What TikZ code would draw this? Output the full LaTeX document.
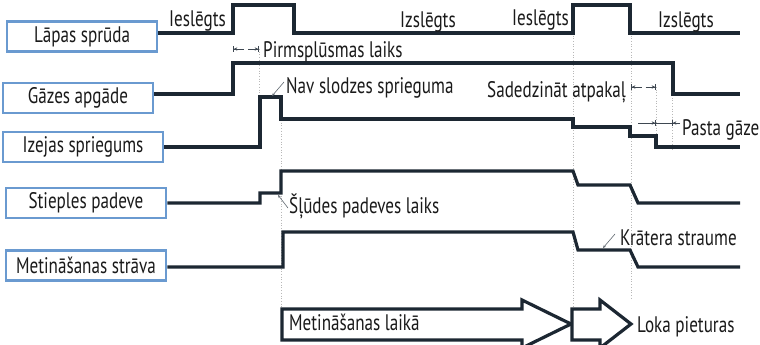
\documentclass[tikz,border=0pt]{standalone}
\usepackage{fontspec}
\setmainfont{PT Sans}[FakeStretch=0.76]
\usetikzlibrary{arrows.meta}
\definecolor{sigc}{HTML}{1C2732}
\definecolor{boxc}{HTML}{6A9AD0}
\definecolor{txt}{HTML}{1A1A1A}
\definecolor{dotc}{HTML}{B8B8B8}
\begin{document}
\begin{tikzpicture}[x=1pt,y=-1pt,
  lbl/.style={draw=boxc, line width=2.8pt, fill=white, text=txt, font=\fontsize{22.5}{26}\selectfont, minimum height=30pt, inner sep=0pt},
  sig/.style={draw=sigc, line width=3.2pt, line join=miter},
  txtn/.style={anchor=base west, text=txt, font=\fontsize{22.5}{26}\selectfont, inner sep=0pt},
  guide/.style={draw=dotc, line width=0.7pt, dotted},
  dimline/.style={draw=sigc!85, line width=0.8pt, -{Stealth[length=3.5pt,width=3.5pt]Bar[width=6pt]}},
  thinline/.style={draw=sigc!85, line width=0.8pt},
  lead/.style={draw=sigc!70, line width=0.6pt, -{Stealth[length=3pt,width=2.5pt]}},
  bigarrow/.style={draw=sigc, line width=3.2pt, fill=white, line join=miter}]
\useasboundingbox (0,0) rectangle (760,345);
\fill[white] (0,0) rectangle (760,345);
% guides
\draw[guide] (259,49) -- (259,97);
\draw[guide] (281,120) -- (281,309);
\draw[guide] (573,33) -- (573,309);
\draw[guide] (631,33) -- (631,300);
\draw[guide] (656,87) -- (656,147);
\draw[guide] (672,95) -- (672,150);
% label boxes
\node[lbl, minimum width=150pt] (b1) at (82,36.5) {Lāpas sprūda};
\node[lbl, minimum width=150pt] (b2) at (78,98) {Gāzes apgāde};
\node[lbl, minimum width=160pt] (b3) at (83,147) {Izejas spriegums};
\node[lbl, minimum width=160pt] (b4) at (86,203) {Stieples padeve};
\node[lbl, minimum width=160pt] (b5) at (86,265.5) {Metināšanas strāva};
% signals
\draw[sig] ([yshift=3.5pt]b1.east) -| (233,5) -| (294,33) -| (573,5) -| (630,33) -- (740,33);
\draw[sig] ([yshift=4pt]b2.east) -| (233,63) -| (673,94) -- (740,94);
\draw[sig] (b3.east) -| (260,97) -| (281,119) -| (573,127) -| (630,136) -| (656,147) -- (740,147);
\draw[sig] (b4.east) -| (260,193) -| (281,171) -- (573,171) -- (578,185) -- (630,185) -- (638,203) -- (740,203);
\draw[sig] ([yshift=-1.5pt]b5.east) -| (283,232) -- (573,232) -- (578,250) -- (630,250) -- (638,267) -- (740,267);
% state texts
\node[txtn] (on1) at (169,27) {Ieslēgts};
\node[txtn] (off1) at (400,28) {Izslēgts};
\node[txtn] (on2) at (512,26) {Ieslēgts};
\node[txtn] (off2) at (658,28) {Izslēgts};
% annotations
\node[txtn] (pre) at (263,58) {Pirmsplūsmas laiks};
\node[txtn] (nav) at (286,93) {Nav slodzes sprieguma};
\node[txtn] (burn) at (487,97) {Sadedzināt atpakaļ};
\node[txtn] (post) at (682,135) {Pasta gāze};
\node[txtn] (slow) at (289,213) {Šļūdes padeves laiks};
\node[txtn] (crat) at (620,245) {Krātera straume};
% dimension markers
\coordinate (pa) at (233,49); \coordinate (pb) at (259,49);
\draw[dimline] (244,49) -- (pa);
\draw[dimline] (248,49) -- (pb);
\coordinate (sa) at (631,87); \coordinate (sb) at (656,87);
\draw[dimline] (641.5,87) -- (sa);
\draw[dimline] (645.5,87) -- (sb);
\coordinate (qa) at (656,123); \coordinate (qb) at (672,123);
\draw[dimline] (638,123) -- (qa);
\draw[thinline] (qa) -- (qb);
\draw[dimline] (680,123) -- (qb);
% leaders
\coordinate (n1) at (284,82); \coordinate (n2) at (272,96);
\draw[lead] (n1) -- (n2);
\coordinate (s1) at (288,208); \coordinate (s2) at (278,195);
\draw[lead] (s1) -- (s2);
\coordinate (k1) at (615,234); \coordinate (k2) at (603,248);
\draw[lead] (k1) -- (k2);
% big arrows
\draw[bigarrow] (282,309) -- (522,309) -- (522,300) -- (571,324) -- (522,348) -- (522,340) -- (282,340) -- cycle;
\draw[bigarrow] (572,309) -- (600,309) -- (600,300) -- (631,324) -- (600,348) -- (600,340) -- (572,340) -- cycle;
\node[txtn] (weld) at (289,330) {Metināšanas laikā};
\node[txtn] (stop) at (637,332) {Loka pieturas};
\end{tikzpicture}
\end{document}
